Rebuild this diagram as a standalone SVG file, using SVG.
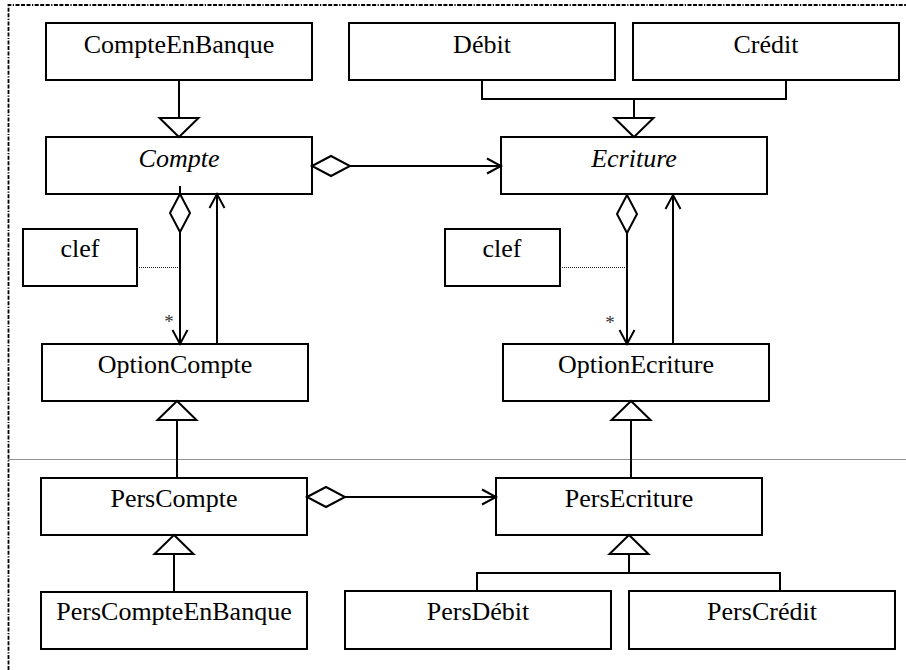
<svg xmlns="http://www.w3.org/2000/svg" width="906" height="670" viewBox="0 0 906 670">
  <style>
    .box { fill: #ffffff; stroke: #000000; stroke-width: 2; }
    .lbl { font-family: "Liberation Serif", "Times New Roman", serif; font-size: 26px; fill: #000000; text-anchor: middle; }
    .abs { font-style: italic; }
    .star { font-family: "Liberation Serif", "Times New Roman", serif; font-size: 19px; fill: #333333; text-anchor: middle; }
    .link { fill: none; stroke: #000000; stroke-width: 2; }
    .assoc { stroke-dasharray: 1 1; stroke: #222222; stroke-width: 1; fill: none; }
    .frame { fill: none; stroke: #000000; stroke-width: 1.8; stroke-dasharray: 4 1.5 4 1.5 4 1.5 1.2 1.5; }
    .sep { fill: none; stroke: #222222; stroke-width: 1; stroke-dasharray: 1 1; }
  </style>
  <defs>
    <!-- open navigation arrowhead, tip on the path end -->
    <marker id="open" markerUnits="userSpaceOnUse" orient="auto" refX="0" refY="0" markerWidth="20" markerHeight="20" overflow="visible">
      <path d="M-14,-7.5 L0,0 L-14,7.5" fill="none" stroke="#000" stroke-width="2"/>
    </marker>
    <!-- hollow aggregation diamond, starting on the owner's edge -->
    <marker id="agg" markerUnits="userSpaceOnUse" orient="auto" refX="0" refY="0" markerWidth="40" markerHeight="20" overflow="visible">
      <path d="M0,0 L19,-10 L38,0 L19,10 Z" fill="#fff" stroke="#000" stroke-width="2"/>
    </marker>
    <!-- hollow generalization triangle, tip on the parent's edge -->
    <marker id="gen" markerUnits="userSpaceOnUse" orient="auto" refX="0" refY="0" markerWidth="40" markerHeight="40" overflow="visible">
      <path d="M0,0 L-19,-19.5 L-19,19.5 Z" fill="#fff" stroke="#000" stroke-width="2"/>
    </marker>
  </defs>

  <rect x="0" y="0" width="906" height="670" fill="#ffffff"/>

  <!-- page frame and layer separator -->
  <path class="frame" d="M8.5,670 V5 H906"/>
  <path class="sep" d="M8.5,459.5 H906"/>

  <!-- classes -->
  <g id="CompteEnBanque">
    <rect class="box" x="46" y="23" width="266" height="57"/>
    <text class="lbl" x="179" y="53">CompteEnBanque</text>
  </g>
  <g id="Debit">
    <rect class="box" x="349" y="23" width="266" height="57"/>
    <text class="lbl" x="482" y="53">Débit</text>
  </g>
  <g id="Credit">
    <rect class="box" x="633" y="23" width="266" height="57"/>
    <text class="lbl" x="766" y="53">Crédit</text>
  </g>
  <g id="Compte">
    <rect class="box" x="46" y="137" width="266" height="57"/>
    <text class="lbl abs" x="179" y="167">Compte</text>
  </g>
  <g id="Ecriture">
    <rect class="box" x="501" y="137" width="266" height="57"/>
    <text class="lbl abs" x="634" y="167">Ecriture</text>
  </g>
  <g id="clefCompte">
    <rect class="box" x="23" y="229" width="114" height="57"/>
    <text class="lbl" x="80" y="257">clef</text>
  </g>
  <g id="clefEcriture">
    <rect class="box" x="445" y="229" width="115" height="57"/>
    <text class="lbl" x="502" y="257">clef</text>
  </g>
  <g id="OptionCompte">
    <rect class="box" x="42" y="344" width="266" height="57"/>
    <text class="lbl" x="175" y="373">OptionCompte</text>
  </g>
  <g id="OptionEcriture">
    <rect class="box" x="503" y="344" width="266" height="57"/>
    <text class="lbl" x="636" y="373">OptionEcriture</text>
  </g>
  <g id="PersCompte">
    <rect class="box" x="41" y="478" width="266" height="57"/>
    <text class="lbl" x="174" y="507">PersCompte</text>
  </g>
  <g id="PersEcriture">
    <rect class="box" x="496" y="478" width="266" height="57"/>
    <text class="lbl" x="629" y="507">PersEcriture</text>
  </g>
  <g id="PersCompteEnBanque">
    <rect class="box" x="41" y="592" width="266" height="57"/>
    <text class="lbl" x="174" y="620">PersCompteEnBanque</text>
  </g>
  <g id="PersDebit">
    <rect class="box" x="345" y="591" width="266" height="58"/>
    <text class="lbl" x="478" y="620">PersDébit</text>
  </g>
  <g id="PersCredit">
    <rect class="box" x="629" y="591" width="266" height="58"/>
    <text class="lbl" x="762" y="620">PersCrédit</text>
  </g>

  <!-- connectors -->
  <g id="connectors">
    <!-- generalizations -->
    <path class="link" d="M179,80 V137" marker-end="url(#gen)"/>
    <path class="link" d="M482,80 V99 H786 V80"/>
    <path class="link" d="M634,99 V137" marker-end="url(#gen)"/>
    <path class="link" d="M177,478 V401" marker-end="url(#gen)"/>
    <path class="link" d="M631,478 V401" marker-end="url(#gen)"/>
    <path class="link" d="M174,592 V535" marker-end="url(#gen)"/>
    <path class="link" d="M477,591 V573 H780 V591"/>
    <path class="link" d="M629,573 V535" marker-end="url(#gen)"/>

    <!-- aggregations with navigation -->
    <path class="link" d="M312,166 H501" marker-start="url(#agg)" marker-end="url(#open)"/>
    <path class="link" d="M307,497 H496" marker-start="url(#agg)" marker-end="url(#open)"/>
    <path class="link" d="M180,186 V194"/>
    <path class="link" d="M180,194 V344" marker-start="url(#agg)" marker-end="url(#open)"/>
    <path class="link" d="M627,195 V344" marker-start="url(#agg)" marker-end="url(#open)"/>

    <!-- back references -->
    <path class="link" d="M217,345 V194" marker-end="url(#open)"/>
    <path class="link" d="M673,345 V195" marker-end="url(#open)"/>

    <!-- qualifier links -->
    <path class="assoc" d="M137,267.5 H179"/>
    <path class="assoc" d="M560,267.5 H626"/>

    <!-- multiplicities -->
    <text class="star" x="169" y="328">*</text>
    <text class="star" x="610" y="329">*</text>
  </g>
</svg>
